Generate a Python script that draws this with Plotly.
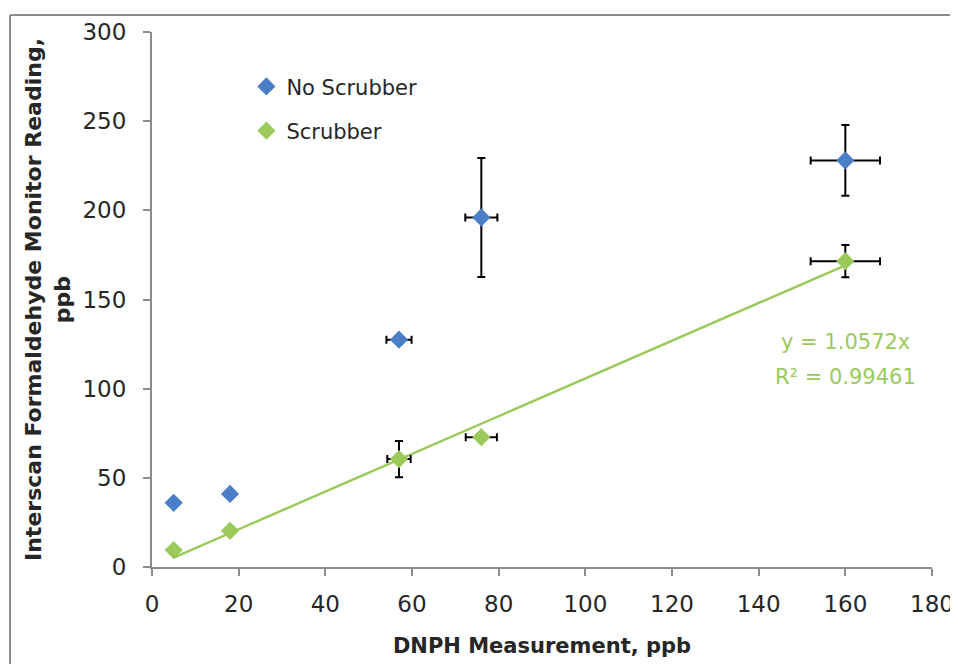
import plotly.graph_objects as go

# Data
no_scrub_x = [5, 18, 57, 76, 160]
no_scrub_y = [36, 41, 127.5, 196, 228]
no_scrub_xerr = [0, 0, 2.9, 3.7, 8.0]
no_scrub_yerr = [0, 0, 0, 33.4, 19.8]

scrub_x = [5, 18, 57, 76, 160]
scrub_y = [9.5, 20.3, 60.5, 72.8, 171.5]
scrub_xerr = [0, 0, 2.7, 3.6, 8.0]
scrub_yerr = [0, 0, 10.2, 0, 9.0]

slope = 1.0572
r2 = 0.99461
trend_x = [5, 160]
trend_y = [slope * v for v in trend_x]

x_ticks = [0, 20, 40, 60, 80, 100, 120, 140, 160, 180]
y_ticks = [0, 50, 100, 150, 200, 250, 300]

BLUE = "#4a7fc8"
GREEN = "#9bc95a"
FONT = "DejaVu Sans"
TXT = "#262626"

fig = go.Figure()

fig.add_trace(go.Scatter(
    x=trend_x, y=trend_y, mode="lines",
    line=dict(color=GREEN, width=2.5), showlegend=False, hoverinfo="skip"))

err_style = dict(type="data", color="black", thickness=2, width=4, visible=True)

fig.add_trace(go.Scatter(
    x=no_scrub_x, y=no_scrub_y, mode="markers", name="No Scrubber",
    legendgroup="a",
    marker=dict(symbol="diamond", size=14, color=BLUE),
    error_x=dict(array=no_scrub_xerr, **err_style),
    error_y=dict(array=no_scrub_yerr, **err_style)))

fig.add_trace(go.Scatter(
    x=scrub_x, y=scrub_y, mode="markers", name="Scrubber",
    legendgroup="b",
    marker=dict(symbol="diamond", size=14, color=GREEN),
    error_x=dict(array=scrub_xerr, **err_style),
    error_y=dict(array=scrub_yerr, **err_style)))

fig.add_annotation(
    x=160, y=126.2, xref="x", yref="y", showarrow=False,
    text=f"y = {slope}x", font=dict(family=FONT, size=21, color=GREEN))
fig.add_annotation(
    x=160, y=106.6, xref="x", yref="y", showarrow=False,
    text=f"R² = {r2}", font=dict(family=FONT, size=21, color=GREEN))

# outer chart border (left and top edges visible in the reference)
border = dict(color="#8c8c8c", width=2)
fig.add_shape(type="line", xref="paper", yref="paper",
              x0=-0.182, x1=-0.182, y0=-0.4, y1=1.032, line=border, layer="below")
fig.add_shape(type="line", xref="paper", yref="paper",
              x0=-0.182, x1=1.3, y0=1.032, y1=1.032, line=border, layer="below")

axis_common = dict(
    showgrid=False, zeroline=False, showline=True, automargin=False,
    linecolor="#8c8c8c", linewidth=2,
    ticks="outside", ticklen=7, tickwidth=1.5, tickcolor="#8c8c8c",
    tickfont=dict(family=FONT, size=23, color=TXT))

fig.update_xaxes(range=[0, 180], tickvals=x_ticks, ticktext=[str(v) for v in x_ticks],
                 ticklabelstandoff=8,
                 title=dict(text="<b>DNPH Measurement, ppb</b>",
                            font=dict(family=FONT, size=21, color=TXT), standoff=23),
                 **axis_common)
fig.update_yaxes(range=[0, 300], tickvals=y_ticks, ticktext=[str(v) for v in y_ticks],
                 ticklabelstandoff=12,
                 title=dict(text="<b>Interscan Formaldehyde Monitor Reading,<br>ppb</b>",
                            font=dict(family=FONT, size=22, color=TXT), standoff=6),
                 **axis_common)

fig.update_layout(
    width=958, height=664,
    margin=dict(l=144, r=34, t=24, b=105),
    paper_bgcolor="white", plot_bgcolor="white",
    font=dict(family=FONT, color=TXT),
    legend=dict(x=0.121, y=0.936, xanchor="left", yanchor="top",
                traceorder="grouped", tracegroupgap=14,
                font=dict(family=FONT, size=21, color=TXT),
                bgcolor="rgba(0,0,0,0)"),
)

fig.write_html(
    "out.html",
    post_script="document.documentElement.style.overflow='hidden';"
                "document.body.style.overflow='hidden';")
